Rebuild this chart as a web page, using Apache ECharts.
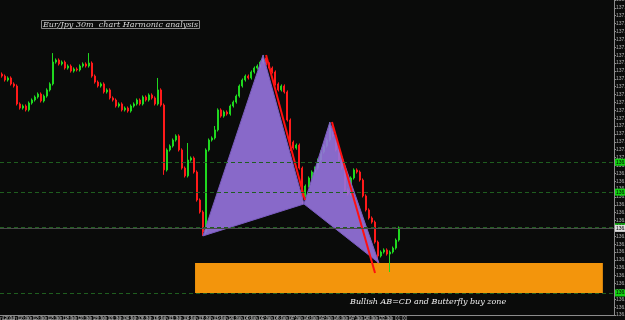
<!DOCTYPE html>
<html>
<head>
<meta charset="utf-8" />
<title>Eur/Jpy 30m chart Harmonic analysis</title>
<script src="https://cdn.jsdelivr.net/npm/echarts@6/dist/echarts.min.js"></script>
<style>
  html, body { margin: 0; padding: 0; background: #0a0b0a; }
  #main { width: 625px; height: 320px; }
</style>
</head>
<body>
<div id="main"></div>
<script type="text/javascript">
// 30m closes (left to right)
var closes = [
  137.517, 137.492, 137.505, 137.467, 137.454, 137.340, 137.314, 137.327, 137.302, 137.346,
  137.365, 137.384, 137.403, 137.359, 137.390, 137.429, 137.467, 137.606, 137.619, 137.594,
  137.606, 137.568, 137.581, 137.549, 137.562, 137.556, 137.581, 137.594, 137.581, 137.600,
  137.517, 137.479, 137.454, 137.467, 137.416, 137.429, 137.378, 137.365, 137.327, 137.340,
  137.302, 137.314, 137.295, 137.327, 137.340, 137.365, 137.340, 137.384, 137.365, 137.397,
  137.378, 137.340, 137.429, 137.333, 136.921, 137.048, 137.073, 137.111, 137.137, 137.048,
  136.933, 136.883, 136.984, 136.997, 136.908, 136.730, 136.654, 136.527, 137.048, 137.111,
  137.124, 137.175, 137.302, 137.263, 137.289, 137.276, 137.327, 137.352, 137.390, 137.454,
  137.492, 137.517, 137.505, 137.543, 137.568, 137.581, 137.606, 137.632, 137.594, 137.568,
  137.543, 137.467, 137.429, 137.454, 137.416, 137.238, 137.098, 137.060, 137.079, 136.933,
  136.756, 136.819, 136.870, 136.908, 136.933, 136.984, 137.035, 137.073, 137.111, 137.187,
  137.137, 137.048, 136.984, 136.933, 136.794, 136.768, 136.870, 136.921, 136.908, 136.857,
  136.756, 136.667, 136.616, 136.590, 136.463, 136.375, 136.400, 136.413, 136.387, 136.400,
  136.425, 136.476, 136.552
];
var firstOpen = 137.530;
var wick = 0.010;
// long shadows that stand out
var spikeHighs = { 17: 137.663, 29: 137.663, 52: 137.505, 62: 137.092, 71: 137.200, 87: 137.651, 109: 137.225 };
var spikeLows = { 54: 136.890, 67: 136.502, 96: 137.040, 100: 136.705, 125: 136.330, 129: 136.273 };

var timeLabels = [
  '12 Jun 2013', '12 Jun 10:30', '12 Jun 13:00', '12 Jun 15:30', '12 Jun 18:00', '12 Jun 20:30',
  '12 Jun 23:00', '13 Jun 01:30', '13 Jun 04:00', '13 Jun 06:30', '13 Jun 09:00', '13 Jun 11:30',
  '13 Jun 14:00', '13 Jun 16:30', '13 Jun 19:00', '13 Jun 21:30', '14 Jun 00:00', '14 Jun 02:30',
  '14 Jun 05:00', '14 Jun 07:30', '14 Jun 10:00', '14 Jun 12:30', '14 Jun 15:00', '14 Jun 17:30',
  '14 Jun 20:00', '14 Jun 22:30', '17 Jun 01:00'
];
var slots = 204; // bars that fit the window (right part empty)

// harmonic points X A B C D (bar index, price)
var patternIdx = [66.9, 86.9, 100.5, 109.1, 125.4];
var patternPx = [136.502, 137.651, 136.705, 137.225, 136.330];
// red trend lines
var trend1 = [[87.9, 137.651], [100.8, 136.730]];
var trend2 = [[109.8, 137.225], [124.1, 136.267]];
// buy zone
var zoneIdx = [64.3, 199.8];
var zonePx = [136.330, 136.140];
// dashed levels
var levels = [136.965, 136.775, 136.559, 136.140];

var ohlc = [];
for (var i = 0; i < closes.length; i++) {
  var o = i ? closes[i - 1] : firstOpen;
  var c = closes[i];
  var h = spikeHighs[i] != null ? spikeHighs[i] : Math.max(o, c) + wick;
  var l = spikeLows[i] != null ? spikeLows[i] : Math.min(o, c) - wick;
  ohlc.push([o, c, l, h]);
}
var cats = [];
for (var k = 0; k < slots; k++) cats.push(String(k));

var chart = echarts.init(document.getElementById('main'));
var lastPx = closes[closes.length - 1];

var option = {
  backgroundColor: '#0a0b0a',
  animation: false,
  title: {
    text: 'Eur/Jpy 30m  chart Harmonic analysis',
    left: 41, top: 20,
    padding: [1, 2, 0, 2],
    borderColor: '#8a8a8a', borderWidth: 1,
    textStyle: { color: '#d8d8d8', fontSize: 8, fontStyle: 'italic', fontWeight: 'normal', fontFamily: 'DejaVu Serif' }
  },
  graphic: [{
    type: 'text', left: 350, top: 298,
    style: { text: 'Bullish AB=CD and Butterfly buy zone', fill: '#eeeeee', fontSize: 8, fontStyle: 'italic', fontFamily: 'DejaVu Serif' }
  }],
  grid: { left: 0, right: 11, top: 0, bottom: 5, containLabel: false, outerBoundsMode: 'none' },
  xAxis: [{
    type: 'category', data: cats, boundaryGap: true,
    axisLine: { lineStyle: { color: '#8c8c8c' } },
    axisTick: { length: 2, lineStyle: { color: '#8c8c8c' },
      interval: function (i) { return i % 5 === 0 && i / 5 < timeLabels.length; } },
    axisLabel: { interval: 0, fontSize: 5, color: '#b0b0b0', margin: 1, hideOverlap: false,
      formatter: function (v, i) { return i % 5 === 0 ? (timeLabels[i / 5] || '') : ''; } },
    splitLine: { show: false }
  }, {
    type: 'value', min: -0.5, max: slots - 0.5, show: false
  }],
  yAxis: {
    type: 'value', position: 'right', min: 136, max: 138, interval: 0.05,
    axisLine: { show: true, onZero: false, lineStyle: { color: '#8c8c8c' } },
    axisTick: { show: true, length: 2, lineStyle: { color: '#8c8c8c' } },
    axisLabel: { fontSize: 5, color: '#b0b0b0', margin: 2, formatter: function (v) { return v.toFixed(3); } },
    splitLine: { show: false }
  },
  series: [{
    name: 'zone', type: 'custom', xAxisIndex: 1, z: 1, silent: true,
    data: [[0, 0]],
    renderItem: function (params, api) {
      var p1 = api.coord([zoneIdx[0], zonePx[0]]);
      var p2 = api.coord([zoneIdx[1], zonePx[1]]);
      return { type: 'rect', shape: { x: p1[0], y: p1[1], width: p2[0] - p1[0], height: p2[1] - p1[1] },
        style: { fill: '#f3950c' } };
    }
  }, {
    name: 'EURJPY', type: 'candlestick', z: 2, barWidth: 1.5,
    data: ohlc,
    itemStyle: { color: '#1fd81f', color0: '#ff1a1a', borderColor: '#1fd81f', borderColor0: '#ff1a1a', borderWidth: 1 },
    markLine: {
      symbol: 'none', silent: true,
      data: levels.map(function (v) {
        return { yAxis: v, lineStyle: { color: '#1f5e1f', type: [4, 3], width: 1 },
          label: { show: true, position: 'end', distance: 1, formatter: v.toFixed(3), fontSize: 5,
            color: '#000', backgroundColor: '#11d011', padding: [1, 1] } };
      }).concat([{ yAxis: lastPx, lineStyle: { color: '#4a4a4a', type: 'solid', width: 1 },
        label: { show: true, position: 'end', distance: 1, formatter: lastPx.toFixed(3), fontSize: 5,
          color: '#000', backgroundColor: '#dcdcdc', padding: [1, 1] } }])
    }
  }, {
    name: 'pattern', type: 'custom', xAxisIndex: 1, z: 3, silent: true,
    data: [[0, 0]],
    renderItem: function (params, api) {
      var pts = patternIdx.map(function (x, j) { return api.coord([x, patternPx[j]]); });
      var st = { fill: 'rgba(150,115,222,0.9)', stroke: '#7a5cc0', lineWidth: 1 };
      return { type: 'group', children: [
        { type: 'polygon', shape: { points: [pts[0], pts[1], pts[2]] }, style: st },
        { type: 'polygon', shape: { points: [pts[2], pts[3], pts[4]] }, style: st }
      ] };
    }
  }, {
    name: 'trend1', type: 'line', xAxisIndex: 1, z: 4, data: trend1, showSymbol: false, silent: true,
    lineStyle: { color: '#ff1010', width: 2 }
  }, {
    name: 'trend2', type: 'line', xAxisIndex: 1, z: 4, data: trend2, showSymbol: false, silent: true,
    lineStyle: { color: '#ff1010', width: 2 }
  }]
};
chart.setOption(option);
</script>
</body>
</html>
